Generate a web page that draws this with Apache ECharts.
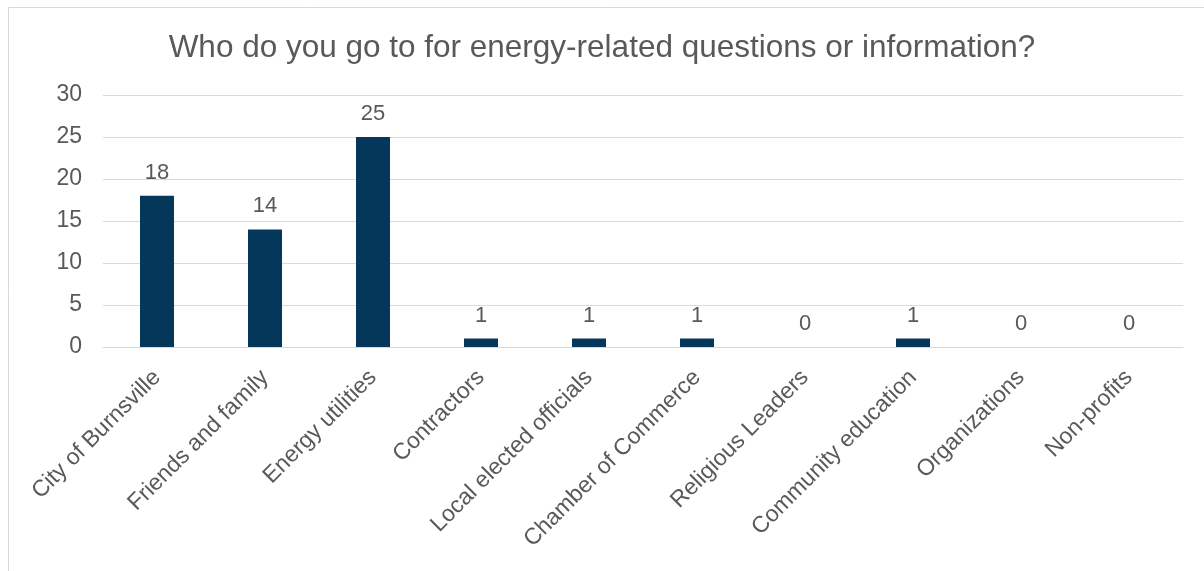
<!DOCTYPE html>
<html>
<head>
<meta charset="utf-8">
<script src="https://cdn.jsdelivr.net/npm/echarts@6/dist/echarts.min.js"></script>
<style>
  html, body { margin: 0; padding: 0; background: #fff; }
  #chart { width: 1204px; height: 571px; }
</style>
</head>
<body>
<div id="chart"></div>
<script>
// Survey responses: where people go for energy information
const titleText = 'Who do you go to for energy-related questions or information?';
const categories = [
  'City of Burnsville',
  'Friends and family',
  'Energy utilities',
  'Contractors',
  'Local elected officials',
  'Chamber of Commerce',
  'Religious Leaders',
  'Community education',
  'Organizations',
  'Non-profits'
];
const counts = [18, 14, 25, 1, 1, 1, 0, 1, 0, 0];
const yMin = 0;
const yMax = 30;
const yStep = 5;

const textColor = '#595959';
const fontFamily = '"Liberation Sans", Arial, sans-serif';

const chart = echarts.init(document.getElementById('chart'), null, { renderer: 'canvas' });
chart.setOption({
  animation: false,
  backgroundColor: '#ffffff',
  graphic: [{
    type: 'rect',
    left: 6,
    top: 5,
    shape: { x: 0, y: 0, width: 1230, height: 600 },
    style: { fill: 'none', stroke: '#d9d9d9', lineWidth: 1 },
    silent: true,
    z: -1
  }],
  title: {
    text: titleText,
    left: 'center',
    top: 27,
    textStyle: { color: textColor, fontSize: 31.5, fontWeight: 'normal', fontFamily: fontFamily }
  },
  grid: { left: 103, right: 21, top: 95, bottom: 224, containLabel: false },
  xAxis: {
    type: 'category',
    data: categories,
    axisLine: { show: true, lineStyle: { color: '#d9d9d9', width: 1 } },
    axisTick: { show: false },
    axisLabel: {
      rotate: 45,
      interval: 0,
      margin: 27,
      color: textColor,
      fontSize: 23,
      fontFamily: fontFamily
    }
  },
  yAxis: {
    type: 'value',
    min: yMin,
    max: yMax,
    interval: yStep,
    axisLine: { show: false },
    axisTick: { show: false },
    splitLine: { lineStyle: { color: '#d9d9d9', width: 1 } },
    axisLabel: { color: textColor, fontSize: 23, fontFamily: fontFamily, margin: 21 }
  },
  series: [{
    type: 'bar',
    data: counts,
    barWidth: 34,
    itemStyle: { color: '#04375a' },
    label: {
      show: true,
      position: 'top',
      distance: 12,
      color: textColor,
      fontSize: 22,
      fontFamily: fontFamily
    }
  }]
});
</script>
</body>
</html>
